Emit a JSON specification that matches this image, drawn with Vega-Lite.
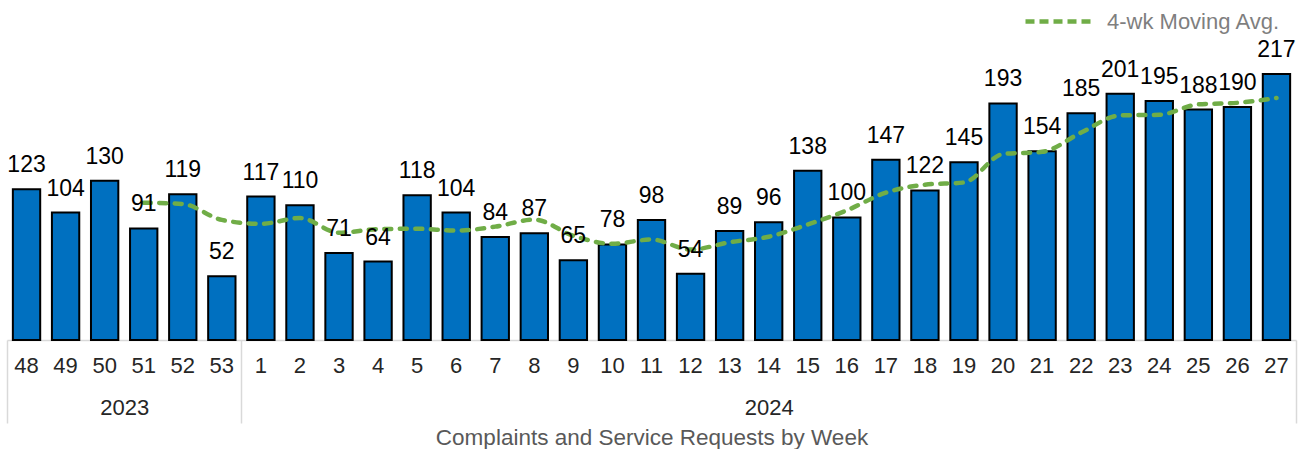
{
  "$schema": "https://vega.github.io/schema/vega-lite/v6.json",
  "width": 1289,
  "height": 340,
  "autosize": {"type": "none"},
  "padding": {"left": 7, "top": 0, "right": 8, "bottom": 109},
  "background": "white",
  "config": {"view": {"stroke": null}, "font": "Liberation Sans"},
  "data": {"values": [
    {"wk": "2023-48", "count": 123, "ma": null},
    {"wk": "2023-49", "count": 104, "ma": null},
    {"wk": "2023-50", "count": 130, "ma": null},
    {"wk": "2023-51", "count": 91, "ma": 112},
    {"wk": "2023-52", "count": 119, "ma": 111},
    {"wk": "2023-53", "count": 52, "ma": 98},
    {"wk": "2024-1", "count": 117, "ma": 94.75},
    {"wk": "2024-2", "count": 110, "ma": 99.5},
    {"wk": "2024-3", "count": 71, "ma": 87.5},
    {"wk": "2024-4", "count": 64, "ma": 90.5},
    {"wk": "2024-5", "count": 118, "ma": 90.75},
    {"wk": "2024-6", "count": 104, "ma": 89.25},
    {"wk": "2024-7", "count": 84, "ma": 92.5},
    {"wk": "2024-8", "count": 87, "ma": 98.25},
    {"wk": "2024-9", "count": 65, "ma": 85},
    {"wk": "2024-10", "count": 78, "ma": 78.5},
    {"wk": "2024-11", "count": 98, "ma": 82},
    {"wk": "2024-12", "count": 54, "ma": 73.75},
    {"wk": "2024-13", "count": 89, "ma": 79.75},
    {"wk": "2024-14", "count": 96, "ma": 84.25},
    {"wk": "2024-15", "count": 138, "ma": 94.25},
    {"wk": "2024-16", "count": 100, "ma": 105.75},
    {"wk": "2024-17", "count": 147, "ma": 120.25},
    {"wk": "2024-18", "count": 122, "ma": 126.75},
    {"wk": "2024-19", "count": 145, "ma": 128.5},
    {"wk": "2024-20", "count": 193, "ma": 151.75},
    {"wk": "2024-21", "count": 154, "ma": 153.5},
    {"wk": "2024-22", "count": 185, "ma": 169.25},
    {"wk": "2024-23", "count": 201, "ma": 183.25},
    {"wk": "2024-24", "count": 195, "ma": 183.75},
    {"wk": "2024-25", "count": 188, "ma": 192.25},
    {"wk": "2024-26", "count": 190, "ma": 193.5},
    {"wk": "2024-27", "count": 217, "ma": 197.5}
  ]},
  "resolve": {"axis": {"x": "independent"}},
  "layer": [
    {
      "mark": {"type": "bar", "color": "#0070C0", "stroke": "#000000", "strokeWidth": 2},
      "encoding": {
        "x": {"field": "wk", "type": "nominal", "sort": null,
          "scale": {"paddingInner": 0.3, "paddingOuter": 0.15},
          "axis": {"orient": "bottom", "title": null, "domain": true, "domainColor": "#d9d9d9", "domainWidth": 1.5,
            "ticks": false, "labelAngle": 0, "labelPadding": 15, "labelFontSize": 22,
            "labelColor": "#262626", "labelOverlap": false,
            "labelExpr": "split(datum.value, '-')[1]"}},
        "y": {"field": "count", "type": "quantitative", "scale": {"domain": [0, 277.4], "nice": false}, "axis": null}
      }
    },
    {
      "mark": {"type": "line", "strokeWidth": 4.5, "strokeDash": [7, 8.5], "strokeCap": "round", "interpolate": "monotone"},
      "encoding": {
        "x": {"field": "wk", "type": "nominal", "sort": null,
          "axis": {"orient": "bottom", "title": null, "domain": false, "labels": false,
            "ticks": true, "tickSize": 83, "tickColor": "#d9d9d9", "tickWidth": 1.5, "tickOffset": -19.53,
            "tickOpacity": {"condition": {"test": "datum.value == '2023-48'", "value": 1}, "value": 0}}},
        "y": {"field": "ma", "type": "quantitative"},
        "color": {"datum": "4-wk Moving Avg.", "type": "nominal",
          "scale": {"range": ["#70AD47"]},
          "legend": {"title": null, "orient": "none", "legendX": 1016, "legendY": -16,
            "symbolType": "stroke", "symbolSize": 4900, "symbolStrokeWidth": 4.5, "symbolDash": [9, 5],
            "labelFontSize": 22, "labelColor": "#7f7f7f", "labelOffset": 9, "labelLimit": 400}}
      }
    },
    {
      "mark": {"type": "text", "fontSize": 23, "color": "#000000", "baseline": "alphabetic", "dy": -17},
      "encoding": {
        "x": {"field": "wk", "type": "nominal", "sort": null,
          "axis": {"orient": "bottom", "title": "Complaints and Service Requests by Week", "titleFontSize": 22.5,
            "titleFontWeight": "normal", "titleColor": "#595959", "titlePadding": 3,
            "domain": false, "ticks": true, "tickSize": 83, "tickOffset": 19.53,
            "tickColor": "#d9d9d9", "tickWidth": 1.5,
            "tickOpacity": {"condition": {"test": "datum.value == '2023-53' || datum.value == '2024-27'", "value": 1}, "value": 0},
            "labelAngle": 0, "labelPadding": -26, "labelFontSize": 22, "labelColor": "#262626",
            "labelOverlap": false,
            "labelOffset": {"condition": {"test": "datum.value == '2024-14'", "value": -19.53}, "value": 0},
            "labelExpr": "datum.value == '2023-50' ? '2023' : (datum.value == '2024-14' ? '2024' : '')"}},
        "y": {"field": "count", "type": "quantitative"},
        "text": {"field": "count", "type": "quantitative"}
      }
    }
  ]
}
